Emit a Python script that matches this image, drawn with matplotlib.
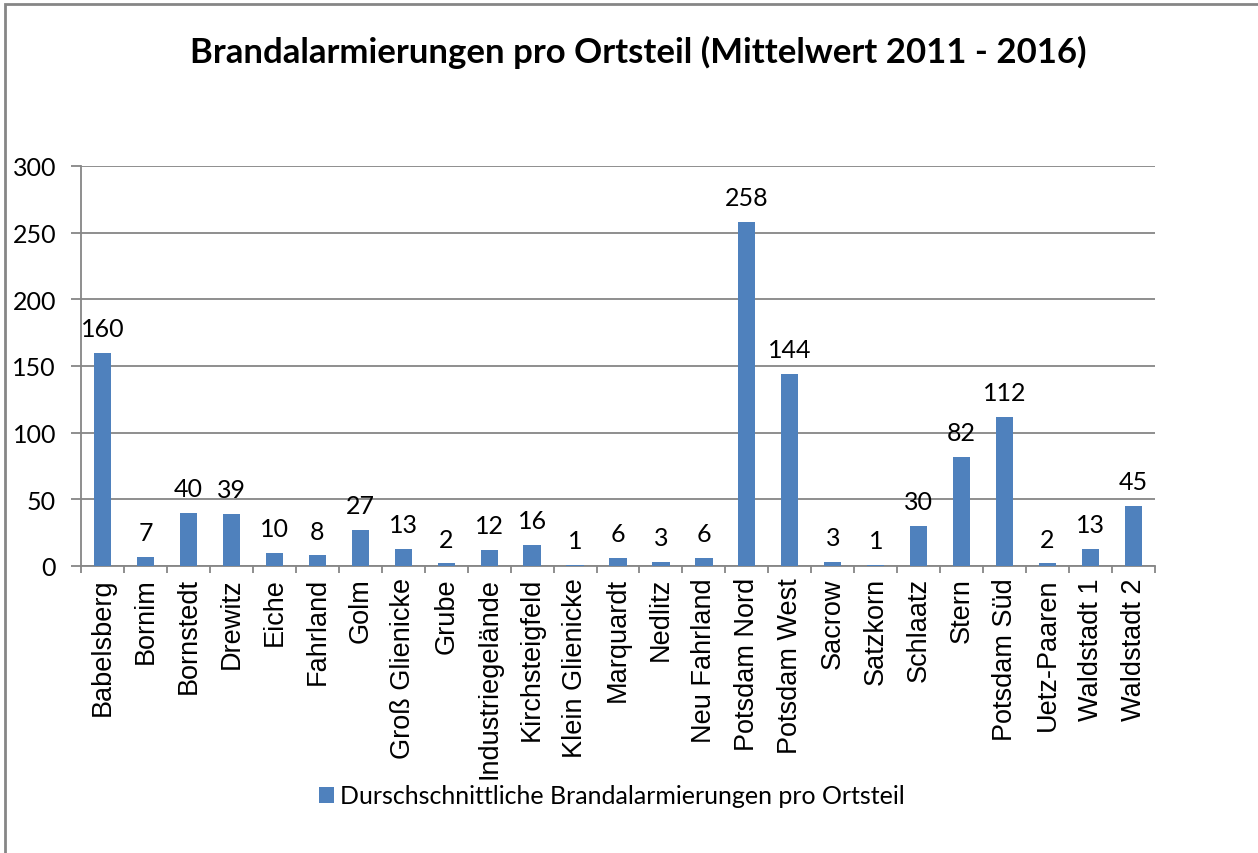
import numpy as np
import matplotlib.pyplot as plt
from matplotlib.patches import Rectangle

districts = ["Babelsberg", "Bornim", "Bornstedt", "Drewitz", "Eiche", "Fahrland", "Golm",
             "Groß Glienicke", "Grube", "Industriegelände", "Kirchsteigfeld", "Klein Glienicke",
             "Marquardt", "Nedlitz", "Neu Fahrland", "Potsdam Nord", "Potsdam West", "Sacrow",
             "Satzkorn", "Schlaatz", "Stern", "Potsdam Süd", "Uetz-Paaren", "Waldstadt 1", "Waldstadt 2"]
alarms = [160, 7, 40, 39, 10, 8, 27, 13, 2, 12, 16, 1, 6, 3, 6, 258, 144, 3, 1, 30, 82, 112, 2, 13, 45]

title = "Brandalarmierungen pro Ortsteil (Mittelwert 2011 - 2016)"
legend_label = "Durschschnittliche Brandalarmierungen pro Ortsteil"

W, H = 1258, 854
fig = plt.figure(figsize=(W / 100, H / 100), dpi=100)
ax = fig.add_axes([81 / W, 1 - 567 / H, (1155 - 81) / W, (567 - 167) / H])

grey = "#868686"
bar_color = "#4f81bd"
x = np.arange(len(districts))
bars = ax.bar(x, alarms, width=0.4, color=bar_color, label=legend_label, zorder=3)

ax.set_xlim(-0.5, len(districts) - 0.5)
ax.set_ylim(0, 300)
ax.set_yticks(range(0, 301, 50))
ax.yaxis.grid(True, color=grey, lw=1.3, zorder=0)

for s in ["top", "right"]:
    ax.spines[s].set_visible(False)
for s in ["left", "bottom"]:
    ax.spines[s].set_color(grey)
    ax.spines[s].set_linewidth(1.3)

ax.set_xticks(x)
ax.set_xticklabels(districts, rotation=90, fontsize=19.5, family="Liberation Sans")
ax.set_xticks(np.arange(-0.5, len(districts)), minor=True)
ax.tick_params(axis="x", which="major", length=0, pad=8)
ax.tick_params(axis="x", which="minor", length=5, width=1.3, color=grey)
ax.tick_params(axis="y", length=7, width=1.3, color=grey, pad=11)
for lbl in ax.get_yticklabels():
    lbl.set_fontsize(18)
    lbl.set_family("Lato")

for xi, v in zip(x, alarms):
    ax.annotate(str(v), (xi, v), xytext=(0, 9), textcoords="offset points",
                ha="center", va="bottom", fontsize=18, family="Lato")

fig.text(638 / W, 1 - 52 / H, title, ha="center", va="center",
         fontsize=25, fontweight="bold", family="Lato")

fig.legend(handles=[bars], labels=[legend_label], loc="center",
           bbox_to_anchor=(612 / W, 1 - 797 / H), frameon=False,
           prop={"family": "Lato", "size": 18}, handlelength=0.6, handleheight=0.6,
           handletextpad=0.25)

fig.patches.append(Rectangle((5 / W, -0.1), 1.2, 1 - 5 / H + 0.1, transform=fig.transFigure,
                             fill=False, edgecolor=grey, lw=2))

fig.savefig("out.png", dpi=100)
